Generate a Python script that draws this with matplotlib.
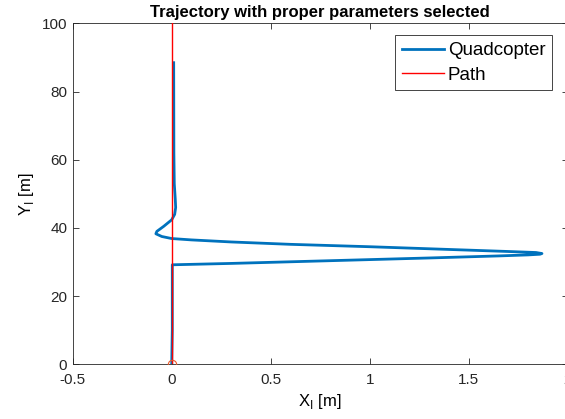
import matplotlib
matplotlib.use("Agg")
import matplotlib.pyplot as plt

# Quadcopter trajectory (X_I, Y_I in metres)
quad_x = [0.0, 0.003, 0.003, 0.3, 0.8, 1.3, 1.65, 1.80, 1.86, 1.87, 1.84, 1.7,
          1.4, 1.0, 0.6, 0.3, 0.1, 0.0, -0.05, -0.08, -0.075, -0.04, 0.0,
          0.015, 0.02, 0.018, 0.013, 0.011, 0.01]
quad_y = [0.0, 10.0, 29.2, 29.6, 30.4, 31.2, 31.8, 32.1, 32.3, 32.5, 32.8, 33.1,
          33.7, 34.5, 35.2, 35.9, 36.5, 36.9, 37.5, 38.3, 39.0, 40.5, 42.4,
          44.0, 46.0, 48.5, 53.0, 62.0, 88.5]

path_x = [0.0, 0.0]
path_y = [0.0, 100.0]

plt.rcParams['font.family'] = ['Liberation Sans', 'DejaVu Sans']
plt.rcParams['mathtext.fontset'] = 'custom'
plt.rcParams['mathtext.rm'] = 'Liberation Sans'

fig = plt.figure(figsize=(5.65, 4.19), dpi=100)
ax = fig.add_axes([72.7 / 565, 54.7 / 419, 495 / 565, 340.8 / 419])

ax.plot(quad_x, quad_y, color='#0072BD', linewidth=2.0, label='Quadcopter', zorder=3)
ax.plot(path_x, path_y, color='#FF0000', linewidth=1.0, label='Path', zorder=4)
ax.plot([0], [0], marker='o', markersize=6, markerfacecolor='none',
        markeredgecolor='#E8582A', markeredgewidth=0.8, linestyle='none', zorder=5)

ax.set_xlim(-0.5, 2)
ax.set_ylim(0, 100)
ax.set_xticks([-0.5, 0, 0.5, 1, 1.5, 2])
ax.set_xticklabels(['-0.5', '0', '0.5', '1', '1.5', '2'])
ax.set_yticks([0, 20, 40, 60, 80, 100])
ax.tick_params(direction='in', top=True, right=True, labelsize=11,
               colors='#262626', length=4, width=0.6)
ax.tick_params(axis='x', pad=6)
ax.tick_params(axis='y', pad=4)
for s in ax.spines.values():
    s.set_color('#262626')
    s.set_linewidth(0.6)

ax.set_title('Trajectory with proper parameters selected', fontsize=12,
             fontweight='bold', pad=5)
ax.set_xlabel(r'X$_\mathregular{I}$ [m]', fontsize=12, labelpad=4)
ax.set_ylabel(r'Y$_\mathregular{I}$ [m]', fontsize=12, labelpad=4)

leg = ax.legend(loc='upper right', bbox_to_anchor=(0.968, 0.965),
                fontsize=13.5, fancybox=False, edgecolor='#262626',
                framealpha=1, handlelength=2.25, handletextpad=0.2,
                borderpad=0.35, labelspacing=0.4, borderaxespad=0)
leg.get_frame().set_linewidth(0.6)

fig.savefig('out.png', dpi=100, facecolor='white')
